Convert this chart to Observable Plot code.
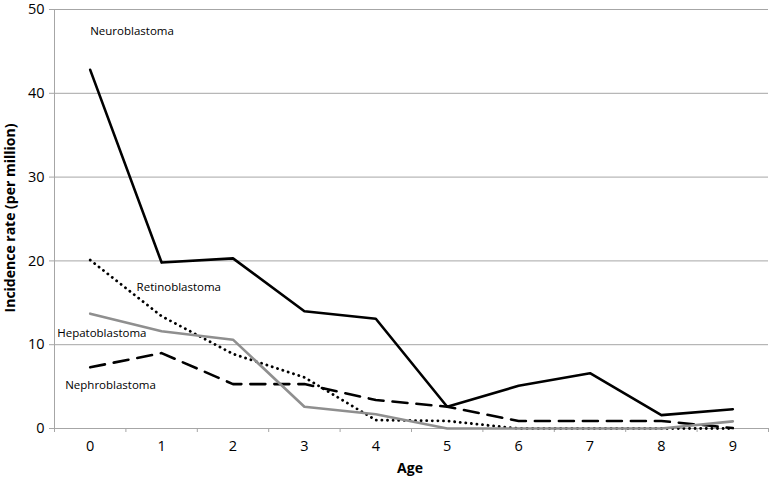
<!DOCTYPE html>
<html>
<head>
<meta charset="utf-8">
<script src="https://cdn.jsdelivr.net/npm/d3@7"></script>
<script src="https://cdn.jsdelivr.net/npm/@observablehq/plot@0.6"></script>
<style>
  html, body { margin: 0; padding: 0; background: #fff; }
  #chart svg { display: block; overflow: visible; }
</style>
</head>
<body>
<div id="chart"></div>
<script>
const ages = [0, 1, 2, 3, 4, 5, 6, 7, 8, 9];
const neuroblastoma  = [42.8, 19.8, 20.3, 14.0, 13.1, 2.6, 5.1, 6.6, 1.6, 2.3];
const retinoblastoma = [20.1, 13.4, 8.9, 6.1, 1.0, 0.9, 0, 0, 0, 0];
const hepatoblastoma = [13.7, 11.6, 10.6, 2.6, 1.7, 0, 0, 0, 0, 0.85];
const nephroblastoma = [7.3, 9.0, 5.3, 5.3, 3.4, 2.6, 0.9, 0.9, 0.9, 0.05];
const yTicks = [0, 10, 20, 30, 40, 50];
const seriesNames = ["Neuroblastoma", "Retinoblastoma", "Hepatoblastoma", "Nephroblastoma"];
// label anchors (age, value) in data space
const labelAge = [0, 1, 0, 0];
const labelValue = [47.4, 16.9, 11.3, 5.1];

const toRows = (vals) => ages.map((a, i) => ({age: a, value: vals[i]}));
const font = "'Open Sans', 'Liberation Sans', sans-serif";
const boundaries = d3.range(-0.5, 10, 1);

const lineStyle = {x: "age", y: "value", strokeWidth: 2.6, strokeLinejoin: "round"};

const plot = Plot.plot({
  width: 770,
  height: 477,
  marginLeft: 54,
  marginRight: 2,
  marginTop: 9,
  marginBottom: 49,
  style: {fontFamily: font, background: "#fff"},
  x: {domain: [-0.5, 9.5], axis: null},
  y: {domain: [0, 50], axis: null},
  marks: [
    Plot.ruleY(yTicks.filter(d => d > 0), {stroke: "#a6a6a6", strokeWidth: 1}),
    Plot.ruleX([-0.5], {stroke: "#a6a6a6", strokeWidth: 1}),
    Plot.ruleY([0], {stroke: "#a6a6a6", strokeWidth: 1}),
    Plot.axisY(yTicks, {
      anchor: "left", tickSize: 5, tickPadding: 5, stroke: "#a6a6a6",
      fontSize: 14.5, fill: "#000", tickFormat: d => d, label: null
    }),
    Plot.axisX(boundaries, {
      anchor: "bottom", tickSize: 4, stroke: "#a6a6a6", tickFormat: () => "", label: null
    }),
    Plot.axisX(ages, {
      anchor: "bottom", tickSize: 0, tickPadding: 12, fontSize: 14.5, fill: "#000",
      tickFormat: d => d, label: null
    }),
    Plot.line(toRows(nephroblastoma), {...lineStyle, stroke: "#000", strokeDasharray: "15,9"}),
    Plot.line(toRows(retinoblastoma), {...lineStyle, stroke: "#000", strokeDasharray: "0.1,5.5", strokeLinecap: "round", strokeWidth: 2.8}),
    Plot.line(toRows(hepatoblastoma), {...lineStyle, stroke: "#8f8f8f"}),
    Plot.line(toRows(neuroblastoma), {...lineStyle, stroke: "#000"}),
    Plot.text(seriesNames.map((n, i) => ({name: n, age: labelAge[i], value: labelValue[i]})), {
      x: "age", y: "value", text: "name",
      textAnchor: "start", fontSize: 11.5, fill: "#000"
    })
  ]
});

// adjust label horizontal offsets
const offs = [0, -25, -33, -25];
d3.select(plot).selectAll("g[aria-label='text'] text").each(function(d, i) {
  d3.select(this).attr("dx", offs[i]);
});

// axis titles
const svg = d3.select(plot);
svg.append("text")
  .attr("x", 410).attr("y", 473)
  .attr("text-anchor", "middle")
  .attr("font-family", font).attr("font-weight", "bold").attr("font-size", 14)
  .text("Age");
svg.append("text")
  .attr("transform", "translate(15,218) rotate(-90)")
  .attr("text-anchor", "middle")
  .attr("font-family", font).attr("font-weight", "bold").attr("font-size", 14)
  .text("Incidence rate (per million)");

document.getElementById("chart").appendChild(plot);
</script>
</body>
</html>
